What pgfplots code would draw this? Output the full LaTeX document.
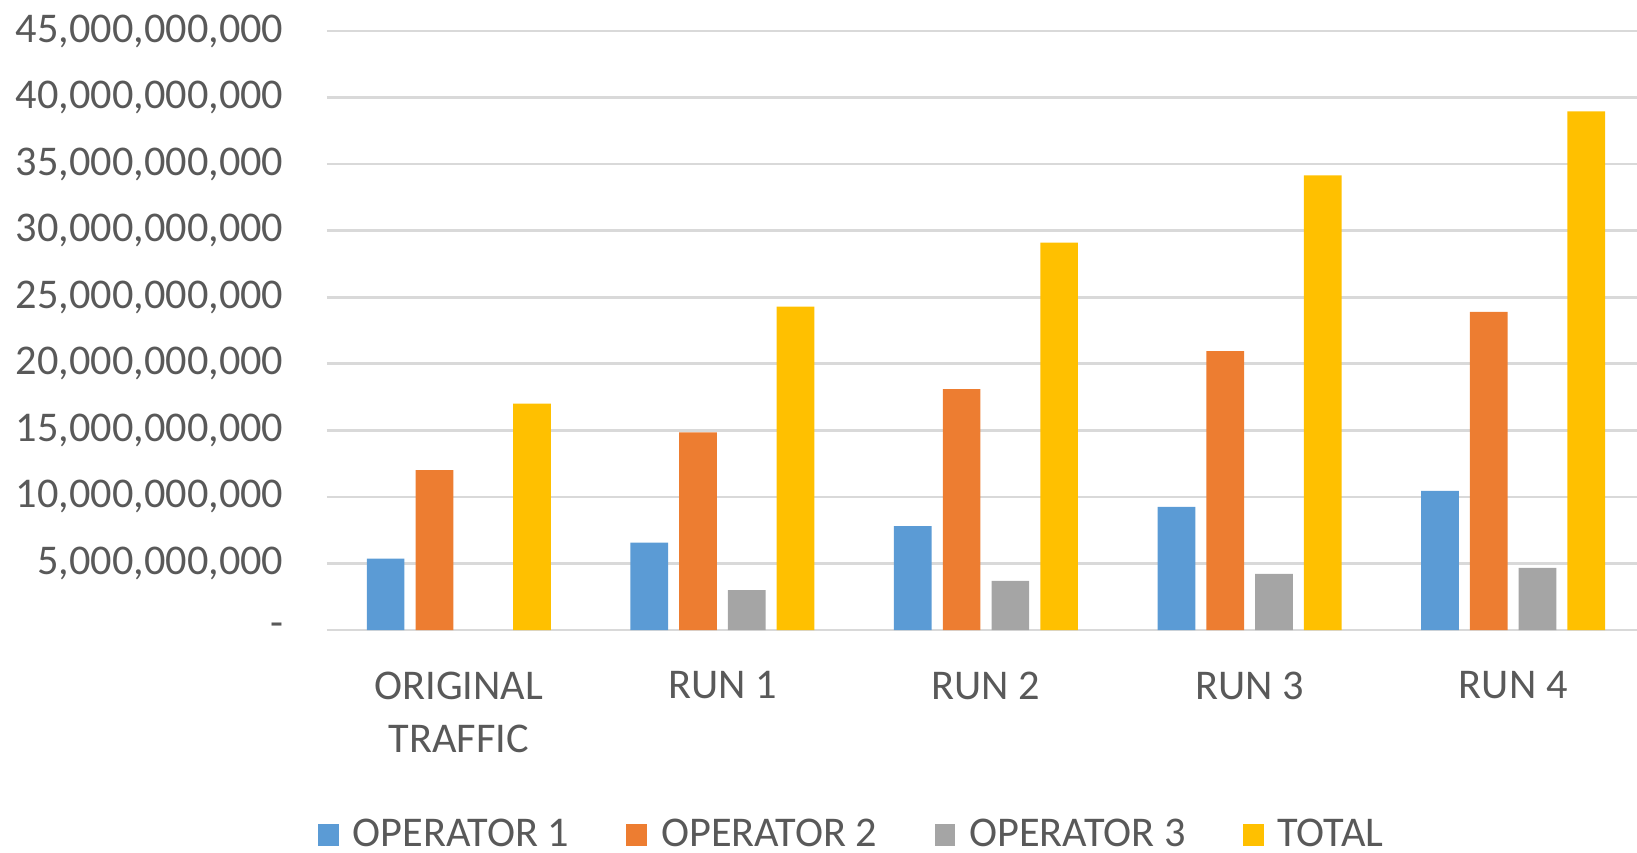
\documentclass[border=0pt]{standalone}
\usepackage{fontspec}
\setmainfont{Carlito}
\usepackage{pgfplots}
\pgfplotsset{compat=1.18}
\definecolor{opblue}{HTML}{5B9BD5}
\definecolor{oporange}{HTML}{ED7D31}
\definecolor{opgray}{HTML}{A5A5A5}
\definecolor{opgold}{HTML}{FFC000}
\definecolor{gridgray}{HTML}{D9D9D9}
\definecolor{txtgray}{HTML}{595959}

\begin{document}
\begin{tikzpicture}
\begin{axis}[
  scale only axis,
  width=395.4pt, height=179.7pt,
  xmin=-0.5, xmax=4.5, ymin=0, ymax=45000000000,
  ybar=0pt, bar width=0.143,
  xtick={0,1,2,3,4},
  xticklabels={{ORIGINAL\\TRAFFIC},{RUN 1},{RUN 2},{RUN 3},{RUN 4}},
  ytick={0,5000000000,10000000000,15000000000,20000000000,25000000000,30000000000,35000000000,40000000000,45000000000},
  yticklabels={-,{5,000,000,000},{10,000,000,000},{15,000,000,000},{20,000,000,000},{25,000,000,000},{30,000,000,000},{35,000,000,000},{40,000,000,000},{45,000,000,000}},
  scaled y ticks=false,
  axis line style={draw=none},
  major tick length=0pt,
  ymajorgrids, grid style={gridgray, line width=0.8pt},
  tick label style={font=\fontsize{12.7}{15.9}\selectfont, text=txtgray},
  yticklabel style={anchor=east, inner sep=0pt, xshift=-12.9pt},
  xticklabel style={anchor=north, inner sep=0pt, yshift=-12.3pt, align=center},
  legend columns=4,
  legend style={at={(axis description cs:0.4,-0.342)}, anchor=center,
    draw=none, fill=none,
    font=\fontsize{12.7}{15.9}\selectfont, text=txtgray,
    /tikz/every odd column/.append style={column sep=2.2pt},
    /tikz/every even column/.append style={column sep=15.2pt}},
  legend image code/.code={\fill[#1] (0pt,-3.2pt) rectangle (6.2pt,3.2pt);},
]
\addplot[fill=opblue, draw=none, bar shift=-0.2775] coordinates {
  (0,5370000000) (1,6570000000) (2,7800000000) (3,9250000000) (4,10450000000)};
\addplot[fill=oporange, draw=none, bar shift=-0.0925] coordinates {
  (0,12010000000) (1,14850000000) (2,18100000000) (3,20950000000) (4,23900000000)};
\addplot[fill=opgray, draw=none, bar shift=0.0925] coordinates {
  (1,2990000000) (2,3700000000) (3,4220000000) (4,4670000000)};
\addplot[fill=opgold, draw=none, bar shift=0.2775] coordinates {
  (0,17010000000) (1,24300000000) (2,29100000000) (3,34150000000) (4,38960000000)};
\legend{OPERATOR 1, OPERATOR 2, OPERATOR 3, TOTAL}
\end{axis}
\pgfresetboundingbox
\path[use as bounding box] (-98.1pt,-66.6pt) rectangle (393pt,189pt);
\end{tikzpicture}
\end{document}
